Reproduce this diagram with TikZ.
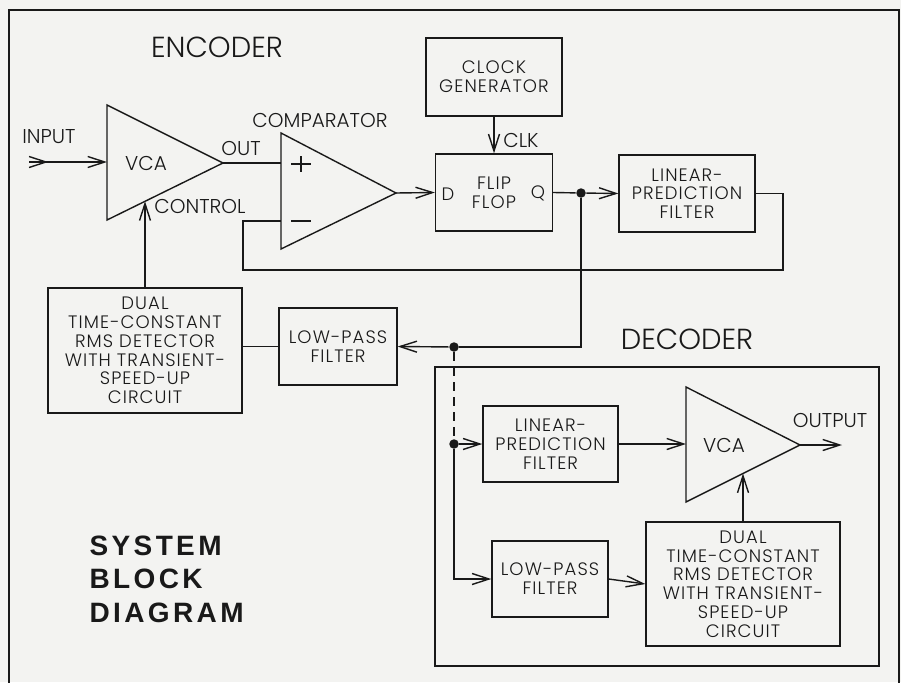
\documentclass[tikz,border=0pt]{standalone}
\usepackage{fontspec}
\setmainfont{Poppins Light}
\newfontfamily\boxfam{Poppins Light}[LetterSpace=6]
\newfontfamily\titlefnt{Liberation Sans}[LetterSpace=12]
\usetikzlibrary{arrows.meta}
\definecolor{paper}{RGB}{243,243,241}
\definecolor{ink}{RGB}{25,25,25}
\newcommand\boxfnt{\boxfam\fontsize{18}{18.8}\selectfont}
\newcommand\lblfnt{\fontsize{20}{22}\selectfont}
\newcommand\bigfnt{\fontsize{29}{30}\selectfont}
\newcommand\ttlfnt{\titlefnt\bfseries\fontsize{28}{33.5}\selectfont}
\begin{document}
\begin{tikzpicture}[x=1pt,y=-1pt, line width=1.4pt, draw=ink, text=ink,
  arr/.style={-{Straight Barb[length=17pt,width=11pt,line width=1.4pt]}},
  blk/.style={draw=ink, line width=1.4pt, align=center, inner sep=0pt, font=\boxfnt},
  lbl/.style={inner sep=0pt, font=\lblfnt},
  big/.style={inner sep=0pt, font=\bigfnt},
  ttl/.style={inner sep=0pt, anchor=base west, font=\ttlfnt},
  dot/.style={circle, fill=ink, draw=none, inner sep=0pt, minimum size=9.5pt}]
\useasboundingbox (0,0) rectangle (901,682);
\fill[paper] (0,0) rectangle (901,682);
% outer frame
\draw (9,700) -- (9,10) -- (899,10) -- (899,700);
% labels
\node[big] (enc) at (217,47) {ENCODER};
\node[big] (dec) at (687,339) {DECODER};
\node[lbl] (cmpl) at (320,120) {COMPARATOR};
\node[lbl] (inl) at (49,137) {INPUT};
\node[lbl] (outl) at (241,148) {OUT};
\node[lbl] (ctll) at (200,206) {CONTROL};
\node[lbl] (clkl) at (521,140) {CLK};
\node[lbl] (outpl) at (830,420) {OUTPUT};
% blocks
\node[blk, minimum width=136pt, minimum height=78pt] (clk) at (494,77) {CLOCK\\GENERATOR};
\node[blk, minimum width=117pt, minimum height=77pt] (ff) at (494,192.5) {FLIP\\FLOP};
\node[inner sep=0pt, font=\boxfnt] (ffd) at (448,194) {D};
\node[inner sep=0pt, font=\boxfnt] (ffq) at (538,193) {Q};
\node[blk, minimum width=136pt, minimum height=77pt] (lpf1) at (687,193.5) {LINEAR-\\PREDICTION\\FILTER};
\node[blk, minimum width=194pt, minimum height=125pt] (dual1) at (145,350.5) {DUAL\\TIME-CONSTANT\\RMS DETECTOR\\WITH TRANSIENT-\\SPEED-UP\\CIRCUIT};
\node[blk, minimum width=118pt, minimum height=77pt] (lp1) at (338,346.5) {LOW-PASS\\FILTER};
\node[blk, minimum width=135pt, minimum height=76pt] (lpf2) at (550.5,444) {LINEAR-\\PREDICTION\\FILTER};
\node[blk, minimum width=116pt, minimum height=76pt] (lp2) at (550,579) {LOW-PASS\\FILTER};
\node[blk, minimum width=194pt, minimum height=124pt] (dual2) at (743,584) {DUAL\\TIME-CONSTANT\\RMS DETECTOR\\WITH TRANSIENT-\\SPEED-UP\\CIRCUIT};
% encoder VCA
\coordinate (v1a) at (107,105); \coordinate (v1b) at (107,220); \coordinate (v1o) at (223,163);
\draw (v1a) -- (v1o) -- (v1b) -- cycle;
\node[lbl] (v1t) at (146,163) {VCA};
% comparator
\coordinate (c1a) at (281,133); \coordinate (c1b) at (281,249); \coordinate (c1o) at (396,193);
\draw (c1a) -- (c1o) -- (c1b) -- cycle;
\coordinate (c1p) at (281,163); \coordinate (c1m) at (281,221);
\coordinate (plus) at (301,164); \coordinate (minus) at (301,221);
\draw (plus) ++(-10,0) -- ++(20,0) (plus) ++(0,-8) -- ++(0,16);
\draw (minus) ++(-10,0) -- ++(20,0);
% decoder VCA
\coordinate (v2a) at (686,387); \coordinate (v2b) at (686,502); \coordinate (v2o) at (800,445);
\draw (v2a) -- (v2o) -- (v2b) -- cycle;
\node[lbl] (v2t) at (724,445) {VCA};
% decoder frame
\draw (435,367) rectangle (879,666);
% connectors
\coordinate (in) at (29,162); \coordinate (v1in) at (107,162);
\draw[arr] (in) -- (v1in);
\draw (in) ++(0,-5.5) -- ++(17,5.5) -- ++(-17,5.5);
\draw (v1o) -- (c1p);
\coordinate (fbR) at (783,270); \coordinate (fbL) at (243,270);
\draw (lpf1.east) -| (fbR) -- (fbL) |- (c1m);
\draw[arr] (c1o) -- (ff.west);
\draw[arr] (clk.south) -- (ff.north);
\node[dot] (dq) at (581,193) {};
\draw (ff.east) -- (dq);
\draw[arr] (dq) -- (lpf1.west);
\node[dot] (da) at (454,347) {};
\node[dot] (db) at (454,444) {};
\draw (dq) |- (da);
\draw[arr] (da) -- (lp1.east);
\draw (lp1.west) -- (lp1.west -| dual1.east);
\coordinate (ctl1) at (145,201.3);
\draw[arr] (dual1.north) -- (ctl1);
\draw[dash pattern=on 9pt off 6pt] (da) -- (db);
\draw[arr] (db) -- (lpf2.west);
\draw[arr] (db) |- (lp2.west);
\coordinate (v2in) at (686,444);
\draw[arr] (lpf2.east) -- (v2in);
\coordinate (outE) at (842,445);
\draw[arr] (v2o) -- (outE);
\coordinate (ctl2) at (743,473.5);
\draw[arr] (dual2.north) -- (ctl2);
\draw[arr] (lp2.east) -- (dual2.west);
% title
\node[ttl] (t1) at (89,555) {SYSTEM};
\node[ttl] (t2) at (89,588.5) {BLOCK};
\node[ttl] (t3) at (89,622) {DIAGRAM};
\end{tikzpicture}
\end{document}
